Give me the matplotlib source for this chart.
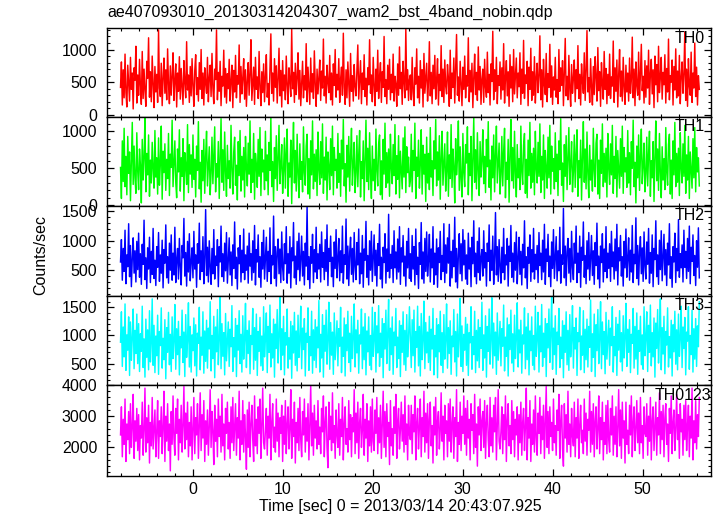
import numpy as np
import matplotlib
matplotlib.use("Agg")
import matplotlib.pyplot as plt
from matplotlib.ticker import MultipleLocator

plt.rcParams['font.family'] = ['Liberation Sans', 'DejaVu Sans']

TITLE = "ae407093010_20130314204307_wam2_bst_4band_nobin.qdp"
XLABEL = "Time [sec] 0 = 2013/03/14 20:43:07.925"
YLABEL = "Counts/sec"
T_START = -8.0
T_END = 56.3

band_names = ["TH0", "TH1", "TH2", "TH3", "TH0123"]
band_colors = ["#ff0000", "#00ff00", "#0000ff", "#00ffff", "#ff00ff"]

th0 = [
 420, 810, 150, 690, 260, 930, 340, 120, 760, 480, 210, 880, 390, 640, 90, 720, 530, 1050, 180, 610,
 300, 850, 440, 160, 970, 250, 700, 380, 130, 820, 560, 1180, 270, 660, 200, 900, 470, 110, 740, 350,
 620, 190, 1300, 410, 280, 790, 140, 560, 870, 330, 690, 230, 1010, 460, 170, 750, 300, 590, 950, 220,
 520, 780, 120, 640, 360, 890, 240, 710, 430, 160, 830, 500, 260, 1120, 380, 610, 190, 740, 290, 860,
 450, 130, 680, 920, 310, 570, 210, 800, 390, 1000, 250, 640, 150, 720, 480, 330, 880, 200, 560, 760,
 280, 940, 410, 170, 700, 540, 1300, 230, 650, 360, 820, 140, 590, 440, 990, 270, 710, 180, 630, 400,
 850, 210, 520, 760, 110, 680, 350, 910, 260, 600, 470, 1070, 190, 740, 320, 560, 860, 240, 690, 130,
 510, 800, 300, 620, 1150, 220, 470, 730, 160, 880, 390, 580, 250, 970, 430, 140, 660, 340, 780, 200,
 590, 920, 270, 480, 150, 710, 1240, 330, 640, 210, 860, 420, 750, 180, 550, 1020, 290, 680, 120, 830,
 370, 610, 230, 900, 460, 170, 720, 530, 280, 1310, 400, 650, 190, 790, 310, 570, 950, 240, 680, 140,
 490, 820, 260, 600, 380, 1090, 200, 730, 440, 160, 870, 350, 630, 250, 980, 470, 130, 700, 320, 560,
 840, 220, 670, 410, 1160, 290, 590, 180, 760, 500, 340, 910, 230, 640, 150, 780, 450, 1000, 270, 620,
 380, 860, 190, 550, 730, 300, 1250, 420, 160, 690, 260, 810, 480, 130, 940, 360, 600, 210, 770, 430,
 290, 670, 1070, 240, 520, 830, 170, 640, 390, 920, 280, 560, 150, 720, 460, 1150, 330, 610, 200, 880,
 450, 140, 700, 360, 990, 250, 580, 800, 190, 660, 420, 1200, 280, 540, 170, 760, 390, 850, 230, 620,
 340, 930, 210, 590, 470, 130, 780, 300, 1040, 400, 650, 160, 820, 500, 260, 1320, 380, 690, 220, 540,
 610, 230, 880, 350, 140, 720, 470, 1010, 260, 590, 180, 830, 410, 690, 120, 940, 330, 560, 790, 210,
 480, 1120, 290, 650, 170, 760, 400, 910, 240, 530, 860, 150, 620, 370, 1060, 280, 700, 190, 840, 440,
 320, 770, 560, 130, 990, 250, 640, 420, 870, 180, 710, 1230, 300, 580, 210, 820, 460, 140, 730, 390,
 900, 260, 600, 440, 1180, 200, 680, 350, 790, 110, 570, 930, 310, 650, 220, 1040, 380, 740, 160, 550,
 700, 190, 850, 420, 270, 960, 340, 620, 150, 780, 510, 1280, 230, 690, 360, 880, 170, 600, 450, 810,
 240, 720, 380, 1090, 180, 560, 830, 290, 660, 130, 920, 410, 740, 200, 1000, 320, 580, 870, 260, 640,
 430, 950, 160, 700, 330, 1140, 250, 610, 480, 820, 140, 730, 390, 1020, 220, 660, 300, 890, 180, 570,
 790, 340, 600, 1210, 230, 690, 120, 850, 460, 310, 940, 200, 630, 420, 1080, 270, 750, 160, 580, 380,
 880, 270, 540, 170, 1000, 360, 720, 450, 830, 140, 650, 1170, 290, 590, 230, 910, 400, 130, 770, 330,
 560, 840, 200, 690, 400, 1060, 250, 620, 150, 780, 510, 330, 950, 220, 680, 1290, 350, 570, 190, 860,
 420, 150, 740, 310, 890, 590, 210, 1030, 370, 660, 130, 800, 470, 240, 970, 390, 710, 170, 620, 300,
 930, 250, 580, 440, 1130, 190, 720, 360, 840, 120, 610, 1000, 280, 670, 210, 880, 430, 160, 760, 350,
 640, 210, 870, 330, 540, 1190, 260, 700, 140, 810, 450, 300, 960, 230, 620, 1080, 370, 590, 180, 830,
 270, 750, 410, 990, 160, 630, 850, 320, 690, 110, 900, 460, 770, 200, 1050, 340, 570, 880, 240, 650,
 460, 920, 180, 710, 350, 1160, 230, 600, 500, 840, 150, 740, 380, 1010, 260, 670, 290, 910, 170, 580,
 810, 330, 620, 1270, 220, 700, 130, 860, 440, 300, 960, 190, 640, 410, 1100, 280, 730, 150, 600, 390,
]

th1 = [
 510, 90, 870, 320, 1040, 250, 660, 140, 930, 430, 720, 60, 590, 1120, 280, 800, 370, 160, 980, 460,
 210, 760, 540, 30, 890, 340, 650, 1180, 180, 700, 410, 950, 120, 610, 300, 850, 490, 230, 1010, 380,
 640, 150, 910, 270, 560, 1070, 80, 730, 440, 830, 200, 620, 360, 970, 130, 690, 510, 1150, 250, 580,
 870, 310, 100, 760, 450, 1020, 190, 640, 390, 900, 60, 710, 530, 280, 1090, 170, 820, 420, 680, 240,
 950, 350, 620, 110, 800, 470, 1130, 220, 580, 40, 740, 330, 890, 160, 660, 1000, 260, 520, 790, 140,
 430, 920, 290, 700, 1060, 180, 560, 380, 860, 90, 640, 1170, 310, 750, 200, 990, 450, 120, 810, 360,
 600, 230, 1080, 480, 150, 720, 920, 270, 540, 70, 860, 400, 1010, 190, 660, 340, 780, 110, 930, 500,
 260, 840, 420, 1140, 170, 620, 310, 970, 80, 700, 550, 240, 890, 390, 1050, 130, 760, 450, 610, 210,
 1000, 330, 680, 140, 850, 470, 1190, 250, 590, 50, 780, 360, 940, 200, 640, 1080, 290, 530, 820, 160,
 460, 910, 230, 710, 1030, 120, 570, 380, 880, 20, 670, 1120, 300, 740, 190, 960, 420, 100, 830, 350,
 590, 180, 1060, 440, 270, 800, 960, 150, 630, 90, 870, 410, 1140, 220, 690, 320, 750, 130, 990, 480,
 280, 860, 370, 1100, 160, 650, 340, 920, 70, 720, 520, 210, 900, 400, 1070, 140, 780, 470, 620, 230,
 970, 310, 700, 120, 880, 490, 1160, 260, 560, 40, 810, 380, 930, 190, 670, 1040, 270, 540, 850, 170,
 440, 940, 250, 680, 1010, 110, 590, 360, 870, 60, 640, 1150, 320, 770, 210, 980, 430, 90, 800, 330,
 620, 200, 1030, 460, 260, 830, 950, 140, 600, 80, 890, 420, 1110, 240, 710, 300, 760, 120, 960, 510,
 290, 820, 400, 1090, 150, 670, 350, 940, 100, 730, 480, 220, 910, 380, 1060, 170, 790, 440, 650, 250,
 330, 960, 180, 740, 470, 1110, 90, 650, 390, 880, 230, 560, 1020, 150, 810, 420, 690, 50, 920, 300,
 700, 210, 1050, 380, 600, 130, 870, 490, 1160, 260, 720, 340, 940, 80, 630, 1000, 270, 550, 830, 190,
 460, 990, 120, 680, 360, 1090, 240, 760, 520, 30, 900, 410, 620, 1140, 200, 790, 350, 110, 970, 440,
 250, 820, 570, 1060, 140, 700, 400, 930, 60, 640, 1180, 310, 750, 220, 980, 470, 130, 860, 380, 600,
 1020, 290, 660, 170, 890, 520, 1130, 240, 610, 70, 800, 370, 950, 180, 680, 1070, 300, 560, 840, 150,
 410, 930, 260, 720, 1040, 100, 580, 350, 890, 40, 660, 1160, 330, 780, 230, 1000, 440, 110, 820, 370,
 630, 210, 1070, 450, 280, 810, 970, 160, 620, 100, 880, 400, 1120, 230, 700, 310, 770, 140, 1000, 490,
 300, 850, 390, 1100, 170, 660, 340, 950, 90, 740, 500, 230, 920, 370, 1080, 150, 800, 460, 630, 220,
 980, 320, 690, 130, 870, 480, 1170, 270, 570, 50, 820, 390, 940, 210, 650, 1050, 280, 550, 860, 180,
 450, 950, 240, 690, 1020, 120, 600, 370, 880, 70, 650, 1130, 310, 760, 220, 990, 420, 100, 810, 340,
 610, 190, 1040, 470, 250, 840, 960, 150, 610, 90, 880, 430, 1100, 250, 700, 310, 770, 110, 970, 500,
 280, 830, 410, 1080, 160, 660, 360, 930, 110, 740, 490, 230, 900, 390, 1070, 160, 780, 450, 640, 240,
 1010, 300, 710, 140, 860, 500, 1150, 250, 580, 30, 800, 370, 950, 200, 660, 1030, 290, 530, 840, 180,
 430, 920, 260, 690, 1000, 120, 600, 370, 860, 50, 650, 1140, 330, 760, 200, 970, 440, 100, 790, 340,
 630, 210, 1050, 450, 270, 820, 960, 150, 610, 90, 870, 410, 1120, 250, 700, 310, 770, 130, 980, 500,
 300, 830, 390, 1080, 160, 680, 340, 930, 90, 720, 470, 230, 900, 370, 1050, 180, 780, 450, 640, 260,
]

th2 = [
 640, 1020, 330, 870, 480, 1180, 270, 760, 560, 1290, 390, 920, 220, 700, 1050, 450, 830, 300, 990, 510,
 1130, 380, 780, 260, 940, 600, 1350, 340, 710, 190, 880, 520, 1060, 290, 820, 430, 1210, 360, 670, 240,
 900, 550, 1140, 310, 760, 450, 1010, 200, 850, 620, 1270, 370, 730, 280, 960, 500, 1100, 330, 790, 420,
 1230, 290, 680, 870, 350, 1040, 560, 250, 920, 710, 1380, 400, 800, 230, 990, 470, 1120, 320, 650, 880,
 370, 1160, 520, 760, 210, 950, 620, 1300, 340, 830, 480, 1070, 270, 710, 1530, 410, 890, 300, 1000, 560,
 260, 870, 440, 1190, 350, 740, 580, 1020, 220, 900, 640, 1250, 390, 780, 310, 960, 490, 1140, 280, 690,
 1050, 420, 810, 240, 930, 530, 1320, 360, 720, 180, 880, 610, 1090, 300, 840, 460, 1200, 340, 760, 500,
 910, 280, 1130, 570, 780, 330, 1000, 460, 1260, 250, 850, 640, 1100, 380, 730, 210, 970, 520, 1180, 350,
 690, 1060, 310, 820, 480, 1220, 270, 750, 590, 1420, 360, 900, 230, 810, 1030, 440, 860, 290, 1150, 540,
 330, 950, 610, 1240, 280, 780, 450, 1070, 200, 880, 660, 1310, 370, 740, 260, 990, 510, 1130, 320, 700,
 1080, 400, 820, 250, 960, 570, 1590, 340, 730, 190, 900, 620, 1110, 290, 850, 470, 1230, 360, 780, 520,
 940, 300, 1150, 550, 800, 340, 1020, 480, 1270, 240, 870, 650, 1080, 390, 720, 220, 980, 530, 1190, 370,
 680, 1040, 320, 830, 460, 1250, 280, 760, 600, 1370, 350, 910, 240, 800, 1060, 430, 870, 300, 1140, 560,
 340, 970, 590, 1200, 270, 790, 440, 1090, 210, 860, 670, 1330, 380, 750, 250, 1000, 500, 1160, 310, 710,
 1100, 410, 840, 230, 950, 580, 1280, 350, 720, 200, 890, 630, 1120, 280, 860, 480, 1450, 370, 770, 530,
 920, 290, 1170, 540, 810, 350, 1030, 470, 1240, 260, 880, 640, 1090, 400, 740, 230, 990, 540, 1210, 360,
 780, 310, 1090, 520, 900, 250, 1200, 430, 720, 190, 970, 600, 1310, 350, 810, 280, 1040, 480, 1150, 400,
 660, 1110, 300, 860, 540, 1240, 260, 790, 420, 1030, 210, 880, 630, 1160, 340, 750, 480, 1290, 290, 930,
 450, 1050, 620, 1280, 230, 820, 370, 1010, 560, 1400, 300, 870, 200, 760, 1120, 440, 950, 320, 1190, 590,
 1010, 350, 760, 260, 1130, 520, 880, 220, 1060, 610, 1340, 390, 790, 270, 990, 460, 1220, 330, 710, 850,
 400, 1170, 540, 800, 230, 960, 650, 1270, 320, 840, 500, 1080, 260, 720, 1480, 420, 900, 310, 1020, 570,
 280, 890, 460, 1210, 340, 760, 590, 1040, 230, 910, 650, 1260, 380, 790, 300, 970, 500, 1150, 270, 700,
 1060, 430, 820, 250, 940, 540, 1340, 370, 730, 190, 890, 620, 1100, 310, 850, 470, 1210, 350, 770, 510,
 920, 290, 1140, 580, 790, 340, 1010, 470, 1280, 260, 860, 650, 1110, 390, 740, 220, 980, 530, 1190, 360,
 700, 1070, 320, 830, 490, 1230, 280, 760, 600, 1550, 370, 910, 240, 820, 1040, 450, 870, 300, 1160, 550,
 340, 960, 620, 1250, 290, 790, 460, 1080, 210, 890, 670, 1320, 380, 750, 270, 1000, 520, 1140, 330, 710,
 1090, 410, 830, 260, 970, 580, 1300, 350, 740, 200, 910, 630, 1120, 300, 860, 480, 1240, 370, 790, 530,
 950, 310, 1160, 560, 810, 350, 1030, 490, 1280, 250, 880, 660, 1090, 400, 730, 230, 990, 540, 1200, 380,
 690, 1050, 330, 840, 470, 1260, 290, 770, 610, 1390, 360, 920, 250, 810, 1070, 440, 880, 310, 1150, 570,
 350, 980, 600, 1210, 280, 800, 450, 1100, 220, 870, 680, 1340, 390, 760, 260, 1010, 510, 1170, 320, 720,
 1110, 420, 850, 240, 960, 590, 1290, 360, 730, 210, 900, 640, 1130, 290, 870, 490, 1360, 380, 780, 540,
 930, 300, 1180, 550, 820, 360, 1040, 480, 1250, 270, 890, 650, 1100, 410, 750, 240, 1000, 550, 1220, 370,
]

th3 = [
 880, 1420, 450, 1150, 620, 1560, 380, 1010, 740, 1330, 290, 1240, 560, 960, 1470, 410, 1090, 680, 1380, 500,
 1210, 360, 1030, 720, 1520, 430, 940, 260, 1290, 610, 1100, 390, 1440, 530, 870, 1650, 470, 1180, 340, 990,
 640, 1360, 310, 1070, 820, 1490, 420, 950, 570, 1280, 230, 1140, 700, 1410, 480, 1020, 360, 1330, 590, 900,
 1550, 400, 1120, 660, 1250, 300, 980, 780, 1450, 520, 1060, 270, 1370, 610, 910, 1580, 440, 1160, 350, 1010,
 730, 1310, 460, 1190, 280, 1040, 860, 1500, 390, 970, 650, 1420, 330, 1080, 540, 1270, 420, 1130, 760, 1600,
 370, 1000, 590, 1340, 250, 1150, 710, 1460, 480, 920, 1690, 410, 1210, 630, 1050, 300, 1390, 550, 880, 1240,
 450, 1110, 800, 1530, 360, 960, 620, 1300, 270, 1180, 740, 1440, 500, 1020, 350, 1350, 580, 930, 1570, 430,
 1090, 680, 1260, 320, 1000, 840, 1480, 400, 1140, 560, 1380, 290, 1070, 720, 1320, 460, 990, 380, 1510, 620,
 940, 1400, 340, 1160, 700, 1540, 440, 1030, 600, 1290, 260, 1200, 770, 1460, 510, 1010, 1680, 390, 1120, 650,
 1340, 300, 1050, 830, 1470, 420, 960, 580, 1250, 240, 1170, 690, 1410, 470, 1080, 370, 1360, 610, 920, 1520,
 410, 1130, 750, 1300, 280, 1040, 880, 1490, 380, 980, 640, 1430, 330, 1100, 560, 1280, 430, 1150, 780, 1620,
 350, 1020, 600, 1370, 260, 1180, 720, 1450, 490, 940, 1590, 400, 1230, 650, 1060, 310, 1400, 570, 900, 1260,
 460, 1120, 810, 1500, 340, 970, 630, 1310, 280, 1190, 730, 1430, 520, 1040, 360, 1340, 590, 950, 1560, 440,
 1100, 690, 1270, 330, 1010, 850, 1470, 410, 1150, 570, 1390, 300, 1080, 710, 1330, 470, 1000, 390, 1500, 630,
 950, 1410, 350, 1170, 690, 1530, 450, 1040, 610, 1300, 250, 1210, 760, 1450, 500, 1020, 1640, 380, 1130, 660,
 1330, 310, 1060, 820, 1480, 430, 970, 590, 1260, 270, 1180, 700, 1420, 480, 1090, 380, 1370, 620, 930, 1510,
 990, 430, 1280, 640, 1450, 350, 1070, 790, 1520, 460, 1160, 280, 1390, 570, 920, 1610, 410, 1230, 690, 1060,
 520, 1340, 380, 1110, 760, 1480, 300, 1000, 620, 1300, 250, 1190, 710, 1430, 470, 1050, 340, 1370, 580, 920,
 1560, 420, 1140, 680, 1260, 310, 990, 800, 1460, 530, 1070, 280, 1380, 620, 930, 1660, 450, 1170, 360, 1020,
 740, 1320, 470, 1200, 290, 1050, 870, 1510, 400, 980, 660, 1430, 340, 1090, 550, 1280, 430, 1140, 770, 1590,
 380, 1010, 600, 1350, 260, 1160, 720, 1470, 490, 930, 1670, 420, 1220, 640, 1060, 310, 1400, 560, 890, 1250,
 460, 1120, 810, 1540, 370, 970, 630, 1310, 280, 1190, 750, 1450, 510, 1030, 360, 1360, 590, 940, 1580, 440,
 1100, 690, 1270, 330, 1010, 850, 1490, 410, 1150, 570, 1390, 300, 1080, 730, 1330, 470, 1000, 390, 1520, 630,
 950, 1410, 350, 1170, 710, 1550, 450, 1040, 610, 1300, 270, 1210, 780, 1470, 520, 1020, 1700, 400, 1130, 660,
 1350, 310, 1060, 840, 1480, 430, 970, 590, 1260, 250, 1180, 700, 1420, 480, 1090, 380, 1370, 620, 930, 1530,
 420, 1140, 760, 1310, 290, 1050, 890, 1500, 390, 990, 650, 1440, 340, 1110, 570, 1290, 440, 1160, 790, 1630,
 360, 1030, 610, 1380, 270, 1190, 730, 1460, 500, 950, 1600, 410, 1240, 660, 1070, 320, 1410, 580, 910, 1270,
 470, 1130, 820, 1510, 350, 980, 640, 1320, 290, 1200, 740, 1440, 530, 1050, 370, 1350, 600, 960, 1570, 450,
 1110, 700, 1280, 340, 1020, 860, 1480, 420, 1160, 580, 1400, 310, 1090, 720, 1340, 480, 1010, 400, 1510, 640,
 960, 1420, 360, 1180, 700, 1540, 460, 1050, 620, 1310, 260, 1220, 770, 1460, 510, 1030, 1650, 390, 1140, 670,
 1340, 320, 1070, 830, 1490, 440, 980, 600, 1270, 280, 1190, 710, 1430, 490, 1100, 390, 1380, 630, 940, 1520,
 430, 1150, 770, 1320, 300, 1060, 900, 1510, 400, 1000, 660, 1450, 350, 1120, 580, 1300, 450, 1170, 800, 1600,
]

th0123 = [
 2400, 3300, 1700, 2900, 2100, 3550, 1550, 2750, 2250, 3150, 1800, 3400, 2000, 2650, 3700, 1650, 2850, 2200, 3250, 1900,
 3050, 1600, 2700, 2300, 3450, 1750, 2550, 3900, 1850, 2950, 2150, 3350, 1500, 2800, 2050, 3600, 1950, 2600, 3200, 1700,
 2500, 3500, 1650, 2850, 2350, 3300, 1800, 2650, 3800, 1550, 3000, 2200, 3400, 1900, 2750, 1250, 3150, 2100, 3650, 2300,
 1750, 3250, 2450, 3550, 1600, 2900, 2150, 3350, 1850, 2700, 3950, 1950, 3100, 2250, 3450, 1700, 2800, 2050, 3300, 1600,
 2600, 3600, 1800, 2950, 2400, 3400, 1650, 2700, 3750, 1900, 3050, 2300, 3500, 1550, 2850, 2100, 3200, 1750, 2650, 3850,
 2000, 3150, 2500, 1450, 3350, 2200, 2900, 1700, 3550, 2350, 3000, 1850, 3700, 2050, 2750, 1600, 3250, 2450, 3450, 1950,
 2800, 1650, 3300, 2150, 3600, 1900, 2650, 3400, 1750, 2950, 2300, 3800, 1600, 2850, 2100, 3500, 1850, 3050, 2400, 1300,
 3200, 2000, 3450, 1700, 2750, 3350, 2250, 1550, 3650, 2050, 2900, 1800, 3300, 2450, 3550, 1650, 2700, 3900, 2150, 1950,
 2550, 3250, 1750, 3000, 2300, 3700, 1600, 2800, 3400, 2000, 2650, 1850, 3550, 2200, 3100, 1700, 2950, 2450, 3350, 1550,
 3000, 2100, 3500, 1800, 2750, 3300, 1950, 2600, 3850, 1650, 2900, 2350, 3450, 1500, 2800, 2150, 3250, 1900, 3600, 2250,
 1700, 3150, 2400, 3550, 1850, 2950, 2200, 3400, 1600, 2700, 4000, 2050, 3100, 1750, 3350, 2300, 2850, 1950, 3500, 2100,
 2650, 1800, 3250, 2500, 3650, 1700, 2800, 3300, 2000, 1350, 3450, 2250, 3000, 1900, 3750, 2150, 2700, 1650, 3200, 2400,
 2000, 3400, 1750, 2900, 2350, 3600, 1600, 2750, 3300, 2100, 2600, 1850, 3500, 2250, 3050, 1700, 2950, 2500, 3850, 1800,
 3100, 2150, 3450, 1650, 2800, 3250, 2000, 2550, 3700, 1750, 2900, 2300, 3400, 1550, 2850, 2050, 3300, 1850, 3550, 2200,
 1900, 3200, 2450, 3600, 1800, 2950, 2150, 3350, 1650, 2700, 3800, 2000, 3150, 1700, 3400, 2350, 2800, 1450, 3500, 2050,
 2600, 1750, 3300, 2450, 3700, 1650, 2850, 3250, 1950, 2550, 3450, 2200, 3050, 1850, 3650, 2100, 2750, 1600, 3350, 2400,
 2250, 3350, 1800, 3050, 2500, 3650, 1600, 2800, 3250, 1950, 2650, 3550, 1700, 2950, 2350, 3800, 1850, 3100, 2150, 3400,
 1650, 2900, 3450, 2050, 2700, 1500, 3300, 2400, 3600, 1750, 2850, 3150, 1950, 2550, 3750, 2200, 3000, 1600, 3350, 2450,
 2850, 1700, 3400, 2200, 3550, 1850, 2750, 3300, 1650, 2950, 2350, 3850, 1550, 2800, 2100, 3450, 1900, 3000, 2450, 3650,
 2100, 3250, 1750, 3500, 2300, 2900, 1600, 3400, 2550, 3050, 1800, 3700, 2000, 2750, 1400, 3300, 2400, 3550, 1900, 2850,
 3150, 2000, 3500, 1650, 2800, 3350, 2250, 1700, 3600, 2050, 2950, 1850, 3350, 2500, 3600, 1600, 2700, 3850, 2200, 1950,
 2500, 3300, 1800, 3050, 2250, 3650, 1550, 2850, 3400, 2050, 2700, 1800, 3500, 2250, 3150, 1700, 2900, 2400, 3300, 1600,
 3050, 2150, 3450, 1750, 2800, 3250, 1900, 2650, 3900, 1600, 2950, 2300, 3500, 1550, 2750, 2100, 3200, 1850, 3650, 2300,
 1750, 3100, 2450, 3600, 1800, 3000, 2250, 3350, 1650, 2750, 3950, 2000, 3150, 1800, 3300, 2350, 2800, 1900, 3550, 2150,
 2700, 1750, 3200, 2550, 3700, 1650, 2850, 3350, 1950, 1400, 3400, 2300, 3050, 1850, 3800, 2100, 2750, 1700, 3250, 2350,
 2050, 3450, 1700, 2950, 2300, 3550, 1650, 2700, 3350, 2150, 2550, 1800, 3550, 2200, 3100, 1750, 2900, 2550, 3800, 1850,
 3150, 2100, 3400, 1700, 2850, 3300, 1950, 2600, 3650, 1800, 2950, 2250, 3450, 1600, 2800, 2100, 3350, 1800, 3500, 2250,
 1850, 3250, 2400, 3650, 1750, 3000, 2100, 3300, 1700, 2650, 3850, 2050, 3200, 1650, 3450, 2300, 2850, 1500, 3450, 2100,
 2550, 1800, 3350, 2400, 3650, 1700, 2800, 3300, 1900, 2600, 3500, 2150, 3100, 1800, 3600, 2150, 2700, 1650, 3300, 2450,
 2350, 3400, 1750, 3000, 2200, 3600, 1600, 2850, 3300, 1900, 2700, 3450, 1750, 2950, 2400, 3750, 1800, 3150, 2250, 3350,
 1700, 2950, 3400, 2100, 2750, 1550, 3250, 2450, 3650, 1800, 2800, 3200, 1900, 2600, 3700, 2250, 3050, 1650, 3400, 2500,
 2900, 1750, 3350, 2250, 3500, 1900, 2700, 3350, 1700, 3000, 2300, 3900, 1600, 2850, 2150, 3500, 1950, 3050, 2350, 3600,
]

series = [th0, th1, th2, th3, th0123]
y_limits = [(-26, 1330), (-5, 1200), (70, 1600), (120, 1710), (1100, 4000)]
y_major = [500, 500, 500, 500, 1000]
y_minor = [100, 100, 100, 100, 200]
label_x = [0.990, 0.990, 0.990, 0.990, 1.0]

W, H = 717, 516
fig = plt.figure(figsize=(W / 100, H / 100), dpi=100)

left_px, right_px = 107, 711
edges_px = [28, 116.5, 205.5, 295.5, 385, 475.5]

axes = []
for i in range(5):
    top, bot = edges_px[i], edges_px[i + 1]
    ax = fig.add_axes([left_px / W, 1 - bot / H, (right_px - left_px) / W, (bot - top) / H],
                      sharex=axes[0] if axes else None)
    axes.append(ax)
    y = np.asarray(series[i], dtype=float)
    t = np.linspace(T_START, T_END, len(y))
    ax.plot(t, y, color=band_colors[i], lw=1.05)
    ax.set_ylim(*y_limits[i])
    ax.set_xlim(-9.5, 57.6)
    ax.yaxis.set_major_locator(MultipleLocator(y_major[i]))
    ax.yaxis.set_minor_locator(MultipleLocator(y_minor[i]))
    ax.xaxis.set_major_locator(MultipleLocator(10))
    ax.xaxis.set_minor_locator(MultipleLocator(2))
    ax.tick_params(which='both', direction='in', top=True, right=True, labelsize=11.5)
    ax.tick_params(which='major', length=5, width=0.9)
    ax.tick_params(which='minor', length=2.5, width=0.8)
    ax.tick_params(axis='y', pad=7)
    for s in ax.spines.values():
        s.set_linewidth(1.0)
        s.set_zorder(3)
    if i < 4:
        ax.tick_params(labelbottom=False)
    ax.text(label_x[i], 0.885, band_names[i], transform=ax.transAxes,
            ha='right', va='center', fontsize=11.5)

axes[-1].tick_params(axis='x', pad=5)

fig.text(107.5 / W, 1 - 12 / H, TITLE, ha='left', va='center', fontsize=11.5)
fig.text(41 / W, 1 - 255 / H, YLABEL, ha='center', va='center', rotation=90, fontsize=11.5)
fig.text(400 / W, 1 - 507 / H, XLABEL, ha='center', va='center', fontsize=11.5)

fig.savefig("out.png", dpi=100)
